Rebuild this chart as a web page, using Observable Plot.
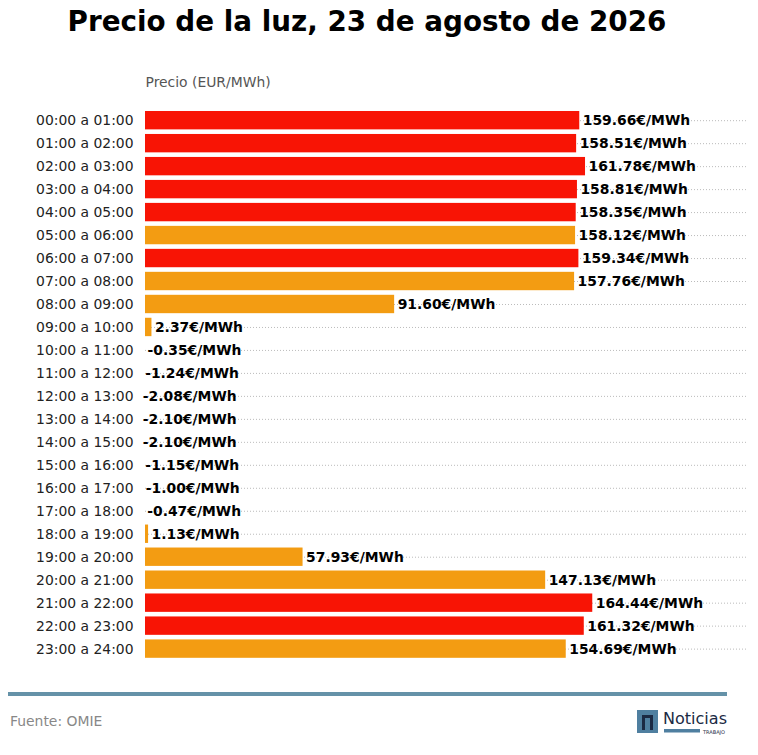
<!DOCTYPE html>
<html><head><meta charset="utf-8">
<script src="https://cdn.jsdelivr.net/npm/d3@7"></script>
<script src="https://cdn.jsdelivr.net/npm/@observablehq/plot@0.6"></script>
<style>
body{margin:0;background:#fff;font-family:"DejaVu Sans",sans-serif;}
#wrap{position:relative;width:758px;height:755px;overflow:hidden;}
#title{position:absolute;left:0;top:5px;width:734px;text-align:center;font-weight:bold;font-size:27.8px;color:#000;white-space:nowrap;}
#chart{position:absolute;left:0;top:60px;}
#rule{position:absolute;left:8px;top:692px;width:719px;height:4px;background:#6592a8;}
#source{position:absolute;left:10px;top:713px;font-size:13.9px;color:#888;}
#logo{position:absolute;left:637px;top:709px;width:92px;height:26px;}
</style></head>
<body><div id="wrap">
<div id="title">Precio de la luz, 23 de agosto de 2026</div>
<div id="chart"></div>
<div id="rule"></div>
<div id="source">Fuente: OMIE</div>
<svg id="logo" width="92" height="26">
<rect x="0" y="1" width="21" height="23" fill="#4f7fa0"/>
<path d="M5 21 V6 H16 V21 H13 V9 H8 V21 Z" fill="#1b2a44"/>
<text x="26" y="15" font-family="DejaVu Sans Condensed, DejaVu Sans" font-size="16" fill="#1b2a44" textLength="64" lengthAdjust="spacingAndGlyphs">Noticias</text>
<rect x="27" y="20" width="36" height="3.5" fill="#4f7fa0"/>
<text x="66" y="24.5" font-family="DejaVu Sans" font-size="5" fill="#1b2a44">TRABAJO</text>
</svg>
</div>
<script>
const horas = ["00:00 a 01:00","01:00 a 02:00","02:00 a 03:00","03:00 a 04:00","04:00 a 05:00","05:00 a 06:00","06:00 a 07:00","07:00 a 08:00","08:00 a 09:00","09:00 a 10:00","10:00 a 11:00","11:00 a 12:00","12:00 a 13:00","13:00 a 14:00","14:00 a 15:00","15:00 a 16:00","16:00 a 17:00","17:00 a 18:00","18:00 a 19:00","19:00 a 20:00","20:00 a 21:00","21:00 a 22:00","22:00 a 23:00","23:00 a 24:00"];
const precios = [159.66,158.51,161.78,158.81,158.35,158.12,159.34,157.76,91.60,2.37,-0.35,-1.24,-2.08,-2.10,-2.10,-1.15,-1.00,-0.47,1.13,57.93,147.13,164.44,161.32,154.69];
const nivel = ["alto","alto","alto","alto","alto","medio","alto","medio","medio","medio","bajo","bajo","bajo","bajo","bajo","bajo","bajo","bajo","medio","medio","medio","alto","alto","medio"];
const niveles = ["alto","medio","bajo"];
const colores = ["#f81405","#f39c12","#f39c12"];
const ejeX = "Precio (EUR/MWh)";

const data = horas.map((h, i) => ({hora: h, precio: precios[i], nivel: nivel[i]}));

const chart = Plot.plot({
  width: 758,
  height: 620,
  marginLeft: 145,
  marginRight: 10,
  marginTop: 46.4,
  marginBottom: 17.6,
  style: {fontFamily: "DejaVu Sans", fontSize: "13.9px", color: "#222", background: "#fff"},
  x: {domain: [0, 221.7], axis: null},
  y: {domain: horas, padding: 0.2, round: false, label: null, tickSize: 0, tickPadding: 12},
  color: {domain: niveles, range: colores},
  marks: [
    Plot.gridY({stroke: "#aaa", strokeOpacity: 1, strokeWidth: 0.8, strokeDasharray: "1,2"}),
    Plot.barX(data, {x: "precio", y: "hora", fill: "nivel", clip: true}),
    Plot.text(data, {x: "precio", y: "hora", text: d => d.precio.toFixed(2) + "€/MWh", textAnchor: "start", dx: 3, fontWeight: "bold", fill: "#000", fontSize: 13.9}),
    Plot.axisY({tickSize: 0, tickPadding: 12, label: null, fill: "#222", fontSize: 13.9}),
    Plot.text([ejeX], {frameAnchor: "top-left", lineAnchor: "middle", dy: -24.4, textAnchor: "start", fill: "#555", fontSize: 13.9})
  ]
});
document.getElementById("chart").appendChild(chart);
</script>
</body></html>
